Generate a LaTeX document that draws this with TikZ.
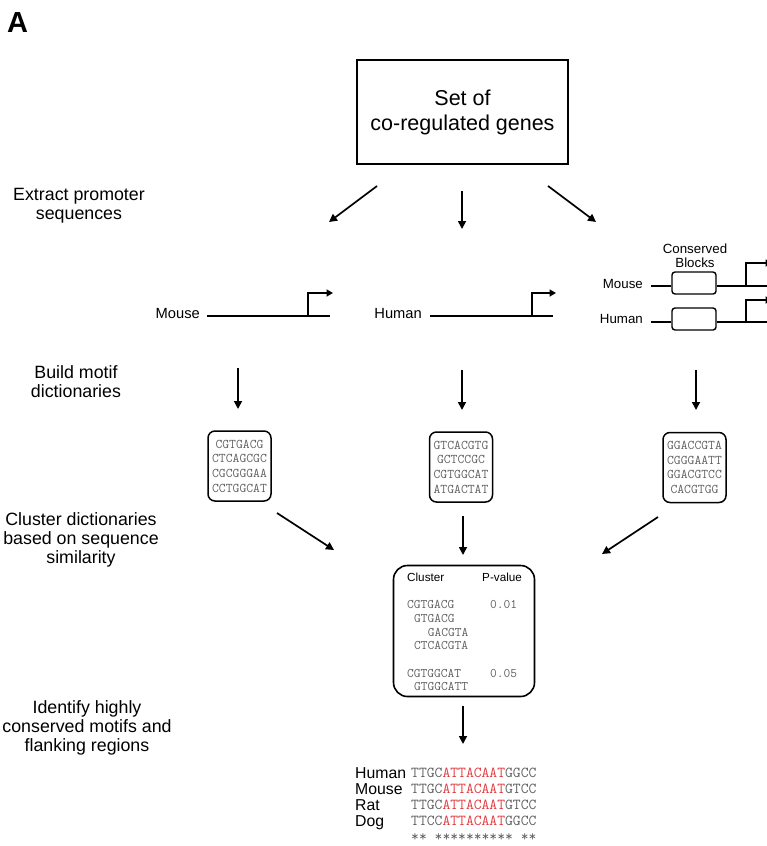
\documentclass[tikz,border=0pt]{standalone}
\usepackage{fontspec}
\setmainfont{Liberation Sans}
\usetikzlibrary{arrows.meta}
\definecolor{seqgray}{RGB}{95,95,95}
\definecolor{seqred}{RGB}{226,58,62}
\begin{document}
\begin{tikzpicture}[x=1pt,y=-1pt,
  flow/.style={line width=1.7pt,-{Triangle[length=8pt,width=8pt]}},
  genearrow/.style={line width=1.9pt,-{Triangle[length=6.5pt,width=7pt]}},
  geneline/.style={line width=1.9pt},
  steplabel/.style={inner sep=0pt,align=center,font=\fontsize{17.8}{19}\selectfont},
  species/.style={inner sep=0pt,font=\fontsize{14.7}{16}\selectfont},
  rspecies/.style={inner sep=0pt,font=\fontsize{13.3}{14}\selectfont},
  dictbox/.style={draw,line width=1.5pt,rounded corners=7pt,minimum width=63pt,minimum height=70pt,inner sep=0pt,align=center,text=seqgray,font=\fontsize{13.3}{14.7}\selectfont\ttfamily},
  block/.style={draw,line width=1.4pt,rounded corners=3pt,minimum width=44pt,minimum height=22pt,inner sep=0pt},
  mono/.style={inner sep=0pt,anchor=base west,text=seqgray,font=\fontsize{13.1}{14}\selectfont\ttfamily},
  hdr/.style={inner sep=0pt,anchor=base west,font=\fontsize{11.7}{13}\selectfont},
  alnlabel/.style={inner sep=0pt,anchor=base west,font=\fontsize{15.8}{17}\selectfont},
  alnseq/.style={inner sep=0pt,anchor=base west,text=seqgray,font=\fontsize{15.2}{17}\selectfont\ttfamily}]
\useasboundingbox (0,0) rectangle (767,846);
\clip (0,0) rectangle (767,846);

% panel letter
\node[inner sep=0pt,anchor=north west,font=\fontsize{29}{30}\selectfont\bfseries] (letter) at (7,12) {A};

% top box
\node[draw,line width=1.5pt,minimum width=211pt,minimum height=104pt,inner sep=0pt,align=center,
      font=\fontsize{21.5}{25}\selectfont] (genes) at (462.5,112) {Set of\\co-regulated genes};

% step labels
\node[steplabel] (s1) at (79,206) {Extract promoter\\sequences};
\node[steplabel] (s2) at (76,382) {Build motif\\dictionaries};
\node[steplabel] (s3) at (81,540) {Cluster dictionaries\\based on sequence\\similarity};
\node[steplabel] (s4) at (87,728) {Identify highly\\conserved motifs and\\flanking regions};

% arrows from top box
\coordinate (a1s) at (377,186); \coordinate (a1e) at (329,222);
\coordinate (a2s) at (462,191); \coordinate (a2e) at (462,229);
\coordinate (a3s) at (548,186); \coordinate (a3e) at (596,222);
\draw[flow] (a1s) -- (a1e);
\draw[flow] (a2s) -- (a2e);
\draw[flow] (a3s) -- (a3e);

% mouse promoter
\node[species,anchor=base east] (mouseL) at (200,318) {Mouse};
\coordinate (mA) at (207,316); \coordinate (mB) at (330,316);
\coordinate (mT) at (308,316); \coordinate (mU) at (308,293); \coordinate (mV) at (333,293);
\draw[geneline] (mA) -- (mB);
\draw[genearrow] (mT) -- (mU) -- (mV);

% human promoter
\node[species,anchor=base east] (humanL) at (422,318) {Human};
\coordinate (hA) at (430,316); \coordinate (hB) at (553,316);
\coordinate (hT) at (532,316); \coordinate (hU) at (532,293); \coordinate (hV) at (556,293);
\draw[geneline] (hA) -- (hB);
\draw[genearrow] (hT) -- (hU) -- (hV);

% conserved blocks panel
\node[rspecies,align=center] (cb) at (695,256) {Conserved\\Blocks};
\node[rspecies,anchor=base east] (rmouse) at (643,288) {Mouse};
\node[rspecies,anchor=base east] (rhuman) at (643,323) {Human};
\node[block] (bm) at (694,283) {};
\node[block] (bh) at (694,319) {};
\coordinate (rmA) at (651,286); \coordinate (rmB) at (772,286);
\coordinate (rmT) at (746,286); \coordinate (rmU) at (746,263); \coordinate (rmV) at (772,263);
\draw[geneline] (rmA) -- (bm.west |- rmA);
\draw[geneline] (bm.east |- rmA) -- (rmB);
\draw[genearrow] (rmT) -- (rmU) -- (rmV);
\coordinate (rhA) at (651,322); \coordinate (rhB) at (772,322);
\coordinate (rhT) at (746,322); \coordinate (rhU) at (746,300); \coordinate (rhV) at (772,300);
\draw[geneline] (rhA) -- (bh.west |- rhA);
\draw[geneline] (bh.east |- rhA) -- (rhB);
\draw[genearrow] (rhT) -- (rhU) -- (rhV);

% arrows to dictionaries
\coordinate (b1s) at (238,368); \coordinate (b1e) at (238,409);
\coordinate (b2s) at (462,370); \coordinate (b2e) at (462,410);
\coordinate (b3s) at (696,370); \coordinate (b3e) at (696,410);
\draw[flow] (b1s) -- (b1e);
\draw[flow] (b2s) -- (b2e);
\draw[flow] (b3s) -- (b3e);

% dictionaries
\node[dictbox] (dictM) at (239.5,466) {CGTGACG\\CTCAGCGC\\CGCGGGAA\\CCTGGCAT};
\node[dictbox] (dictH) at (461,467) {GTCACGTG\\GCTCCGC\\CGTGGCAT\\ATGACTAT};
\node[dictbox] (dictC) at (694.5,467.5) {GGACCGTA\\CGGGAATT\\GGACGTCC\\CACGTGG};

% arrows to cluster box
\coordinate (c1s) at (277,513); \coordinate (c1e) at (334,550);
\coordinate (c2s) at (463,516); \coordinate (c2e) at (463,555);
\coordinate (c3s) at (658,517); \coordinate (c3e) at (602,554);
\draw[flow] (c1s) -- (c1e);
\draw[flow] (c2s) -- (c2e);
\draw[flow] (c3s) -- (c3e);

% cluster box
\node[draw,line width=1.6pt,rounded corners=14pt,minimum width=141pt,minimum height=131pt,inner sep=0pt] (cluster) at (464,631) {};
\node[hdr] (hcl) at (407,581) {Cluster};
\node[hdr] (hpv) at (482,581) {P-value};
\node[mono] (r1) at (407,608) {CGTGACG};
\node[mono] (p1) at (490,608) {0.01};
\node[mono] (r2) at (413.9,622) {GTGACG};
\node[mono] (r3) at (427.6,636) {GACGTA};
\node[mono] (r4) at (413.9,649) {CTCACGTA};
\node[mono] (r5) at (407,677) {CGTGGCAT};
\node[mono] (p2) at (490,677) {0.05};
\node[mono] (r6) at (413.9,690) {GTGGCATT};

% arrow to alignment
\coordinate (d1s) at (463,706); \coordinate (d1e) at (463,744);
\draw[flow] (d1s) -- (d1e);

% alignment
\node[alnlabel] (lh) at (355,778) {Human};
\node[alnlabel] (lm) at (355,794) {Mouse};
\node[alnlabel] (lr) at (355,810) {Rat};
\node[alnlabel] (ld) at (355,826) {Dog};
\node[alnseq] (qh) at (411,777) {TTGC\textcolor{seqred}{ATTACAAT}GGCC};
\node[alnseq] (qm) at (411,793) {TTGC\textcolor{seqred}{ATTACAAT}GTCC};
\node[alnseq] (qr) at (411,809) {TTGC\textcolor{seqred}{ATTACAAT}GTCC};
\node[alnseq] (qd) at (411,825) {TTCC\textcolor{seqred}{ATTACAAT}GGCC};
\node[alnseq] (qs) at (411,841) {**\ **********\ **};
\end{tikzpicture}
\end{document}
